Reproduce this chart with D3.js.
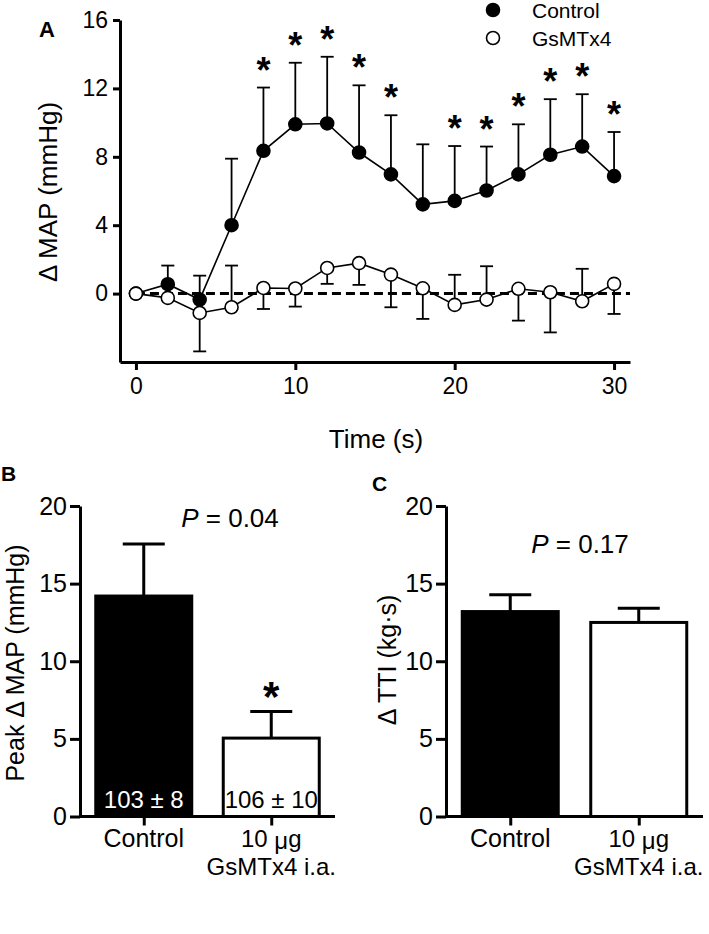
<!DOCTYPE html>
<html>
<head>
  <title>MAP and TTI responses</title>
  <script src="https://cdnjs.cloudflare.com/ajax/libs/d3/7.8.5/d3.min.js"></script>
  <style>
    body { margin: 0; background: #fff; }
    svg { font-family: "Liberation Sans", Arial, sans-serif; }
    .axis path, .axis line { stroke: #000; stroke-width: 3px; }
    .axis text { font-size: 23px; fill: #000; }
    .bars .axis text { font-size: 25px; }
  </style>
</head>
<body>
  <svg width="709" height="934"></svg>
</body>
</html>

<script>
// Panel A: time course of delta MAP
var times = [0, 2, 4, 6, 8, 10, 12, 14, 16, 18, 20, 22, 24, 26, 28, 30];
var ctrlMean = [0, 0.55, -0.35, 4.0, 8.35, 9.9, 9.95, 8.25, 6.97, 5.22, 5.42, 6.03, 6.97, 8.12, 8.6, 6.87];
var ctrlSem  = [0, 1.09, 1.4, 3.89, 3.7, 3.6, 3.9, 3.93, 3.46, 3.51, 3.21, 2.57, 2.93, 3.25, 3.06, 2.58];
var gsMean   = [0, -0.25, -1.13, -0.8, 0.33, 0.3, 1.5, 1.78, 1.11, 0.31, -0.66, -0.35, 0.28, 0.08, -0.45, 0.57];
var gsSem    = [0, 0, 2.25, 2.44, 1.23, 1.06, 0.93, 1.27, 1.91, 1.79, 1.76, 1.95, 1.86, 2.35, 1.9, 1.76];
// which side the GsMTx4 error bar is drawn on (1 = up, -1 = down)
var gsSide   = [1, 1, -1, 1, -1, -1, -1, -1, -1, -1, 1, 1, -1, -1, 1, -1];
var starTimes = [8, 10, 12, 14, 16, 20, 22, 24, 26, 28, 30];
var aYTicks = [0, 4, 8, 12, 16];
var aXTicks = [0, 10, 20, 30];

// Panels B and C
var groups = ["Control", "GsMTx4"];
var peakMean = [14.2, 5.05];
var peakSem = [3.36, 1.71];
var peakBaseline = ["103 \u00b1 8", "106 \u00b1 10"];
var ttiMean = [13.2, 12.5];
var ttiSem = [1.08, 0.92];
var barTicks = [0, 5, 10, 15, 20];

var svg = d3.select("svg");
var black = "#000";

// ---------- panel A ----------
var xA = d3.scaleLinear().domain([-1, 31]).range([120, 630]);
var yA = d3.scaleLinear().domain([-4, 16]).range([362, 20]);

svg.append("g")
    .attr("class", "axis")
    .attr("transform", "translate(0,362)")
    .call(d3.axisBottom(xA).tickValues(aXTicks).tickSizeInner(8).tickSizeOuter(0).tickPadding(8));

svg.append("g")
    .attr("class", "axis")
    .attr("transform", "translate(120,0)")
    .call(d3.axisLeft(yA).tickValues(aYTicks).tickSizeInner(7).tickSizeOuter(0).tickPadding(5));

// zero reference line
svg.append("line")
    .attr("x1", xA(0)).attr("x2", xA(31))
    .attr("y1", yA(0)).attr("y2", yA(0))
    .attr("stroke", black).attr("stroke-width", 3)
    .attr("stroke-dasharray", "9,5");

var line = d3.line()
    .x(function(d) { return xA(d.t); })
    .y(function(d) { return yA(d.m); });

function seriesData(mean, sem, side) {
  return times.map(function(t, i) {
    return { t: t, m: mean[i], e: mean[i] + (side ? side[i] : 1) * sem[i], sem: sem[i] };
  });
}

var ctrl = seriesData(ctrlMean, ctrlSem, null);
var gs = seriesData(gsMean, gsSem, gsSide);

function drawSeries(data, fill) {
  var g = svg.append("g");
  var bars = g.selectAll(".err").data(data.filter(function(d) { return d.sem > 0; }))
    .enter().append("g").attr("class", "err");
  bars.append("line")
      .attr("x1", function(d) { return xA(d.t); })
      .attr("x2", function(d) { return xA(d.t); })
      .attr("y1", function(d) { return yA(d.m); })
      .attr("y2", function(d) { return yA(d.e); })
      .attr("stroke", black).attr("stroke-width", 1.8);
  bars.append("line")
      .attr("x1", function(d) { return xA(d.t) - 6.5; })
      .attr("x2", function(d) { return xA(d.t) + 6.5; })
      .attr("y1", function(d) { return yA(d.e); })
      .attr("y2", function(d) { return yA(d.e); })
      .attr("stroke", black).attr("stroke-width", 1.8);
  g.append("path")
      .datum(data)
      .attr("d", line)
      .attr("fill", "none")
      .attr("stroke", black)
      .attr("stroke-width", 1.6);
  g.selectAll("circle").data(data)
    .enter().append("circle")
      .attr("cx", function(d) { return xA(d.t); })
      .attr("cy", function(d) { return yA(d.m); })
      .attr("r", 6.5)
      .attr("fill", fill)
      .attr("stroke", black)
      .attr("stroke-width", 1.6);
}

drawSeries(ctrl, black);
drawSeries(gs, "#fff");

// significance asterisks above control error bars
svg.selectAll(".starA")
    .data(ctrl.filter(function(d) { return starTimes.indexOf(d.t) >= 0; }))
  .enter().append("text")
    .attr("class", "starA")
    .attr("x", function(d) { return xA(d.t); })
    .attr("y", function(d) { return yA(d.e) - 5; })
    .attr("text-anchor", "middle")
    .attr("font-size", 36)
    .attr("font-weight", "bold")
    .text("*");

// legend
var legend = [{ name: "Control", fill: black }, { name: "GsMTx4", fill: "#fff" }];
var lg = svg.selectAll(".legend").data(legend).enter().append("g")
    .attr("transform", function(d, i) { return "translate(493," + (10 + i * 28) + ")"; });
lg.append("circle").attr("r", 6.5).attr("fill", function(d) { return d.fill; })
    .attr("stroke", black).attr("stroke-width", 1.6);
lg.append("text").attr("x", 39).attr("y", 8).attr("font-size", 21).text(function(d) { return d.name; });

svg.append("text").attr("x", 39).attr("y", 37).attr("font-size", 22).attr("font-weight", "bold").text("A");

svg.append("text")
    .attr("transform", "translate(57,192) rotate(-90)")
    .attr("text-anchor", "middle")
    .attr("font-size", 26)
    .text("\u0394 MAP (mmHg)");

svg.append("text")
    .attr("x", 376).attr("y", 448)
    .attr("text-anchor", "middle")
    .attr("font-size", 26)
    .text("Time (s)");

// ---------- bar panels ----------
function barPanel(opts) {
  var x = d3.scalePoint().domain(groups).range([opts.x0, opts.x1]).padding(0.5);
  var y = d3.scaleLinear().domain([0, 20]).range([816.5, 506]);
  var g = svg.append("g").attr("class", "bars");

  var data = groups.map(function(k, i) { return { k: k, m: opts.mean[i], s: opts.sem[i] }; });

  // error bars (upward only)
  g.selectAll(".eb").data(data).enter().append("path")
      .attr("d", function(d) {
        var cx = x(d.k), yt = y(d.m + d.s);
        return "M" + cx + "," + y(d.m) + "V" + yt + "M" + (cx - 21) + "," + yt + "H" + (cx + 21);
      })
      .attr("fill", "none").attr("stroke", black).attr("stroke-width", 3);

  g.selectAll(".bar").data(data).enter().append("rect")
      .attr("x", function(d) { return x(d.k) - 48; })
      .attr("width", 96)
      .attr("y", function(d) { return y(d.m); })
      .attr("height", function(d) { return y(0) - y(d.m); })
      .attr("fill", function(d, i) { return i === 0 ? black : "#fff"; })
      .attr("stroke", black).attr("stroke-width", 3);

  g.append("g")
      .attr("class", "axis")
      .attr("transform", "translate(0," + y(0) + ")")
      .call(d3.axisBottom(x).tickFormat("").tickSizeInner(9).tickSizeOuter(0))
    .select(".domain").attr("d", "M" + opts.x0 + ",0H" + opts.x1);

  g.append("g")
      .attr("class", "axis")
      .attr("transform", "translate(" + opts.x0 + ",0)")
      .call(d3.axisLeft(y).tickValues(barTicks).tickSizeInner(10).tickSizeOuter(0).tickPadding(3));

  // category labels
  g.append("text").attr("x", x("Control")).attr("y", 847).attr("text-anchor", "middle")
      .attr("font-size", 25).text("Control");
  var t2 = g.append("text").attr("x", x("GsMTx4")).attr("y", 847).attr("text-anchor", "middle")
      .attr("font-size", 24);
  t2.append("tspan").text("10 ");
  t2.append("tspan").text("\u03bc").attr("dy", 2);
  t2.append("tspan").text("g").attr("dy", -2);
  g.append("text").attr("x", x("GsMTx4")).attr("y", 875).attr("text-anchor", "middle")
      .attr("font-size", 24).text("GsMTx4 i.a.");

  var p = g.append("text").attr("x", opts.px).attr("y", opts.py).attr("text-anchor", "middle")
      .attr("font-size", 26);
  p.append("tspan").attr("font-style", "italic").text("P");
  p.append("tspan").text(" = " + opts.p);

  g.append("text")
      .attr("transform", "translate(" + opts.labelX + "," + opts.labelY + ") rotate(-90)")
      .attr("text-anchor", "middle").attr("font-size", 25)
      .text(opts.ylabel);

  return { x: x, y: y, g: g, data: data };
}

var B = barPanel({ x0: 80, x1: 335, mean: peakMean, sem: peakSem, p: "0.04", px: 230, py: 527,
                   ylabel: "Peak \u0394 MAP (mmHg)", labelX: 24, labelY: 663 });
B.g.selectAll(".base").data(peakBaseline).enter().append("text")
    .attr("x", function(d, i) { return B.x(groups[i]); })
    .attr("y", 808)
    .attr("text-anchor", "middle")
    .attr("font-size", 24)
    .attr("fill", function(d, i) { return i === 0 ? "#fff" : black; })
    .text(function(d) { return d; });
B.g.append("text")
    .attr("x", B.x("GsMTx4")).attr("y", B.y(peakMean[1] + peakSem[1]) - 1)
    .attr("text-anchor", "middle").attr("font-size", 42).attr("font-weight", "bold")
    .text("*");
svg.append("text").attr("x", 1).attr("y", 481).attr("font-size", 21).attr("font-weight", "bold").text("B");

var C = barPanel({ x0: 446, x1: 703, mean: ttiMean, sem: ttiSem, p: "0.17", px: 580, py: 553,
                   ylabel: "\u0394 TTI (kg\u00b7s)", labelX: 396, labelY: 660 });
svg.append("text").attr("x", 372).attr("y", 491).attr("font-size", 21).attr("font-weight", "bold").text("C");
</script>
